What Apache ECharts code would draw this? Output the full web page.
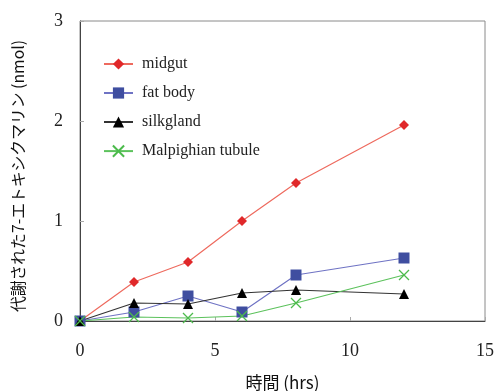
<!DOCTYPE html>
<html><head><meta charset="utf-8">
<script src="https://cdn.jsdelivr.net/npm/echarts@6/dist/echarts.min.js"></script>
<style>html,body{margin:0;padding:0;background:#fff}#c{width:494px;height:391px}</style>
</head><body><div id="c"></div>
<script>
const hours = [0, 2, 4, 6, 8, 12];
const midgut = [0, 0.39, 0.59, 1.0, 1.38, 1.96];
const fatBody = [0, 0.09, 0.25, 0.09, 0.46, 0.63];
const silkgland = [0, 0.18, 0.17, 0.28, 0.31, 0.27];
const malpighian = [0, 0.04, 0.03, 0.05, 0.18, 0.46];
const seriesNames = ['midgut', 'fat body', 'silkgland', 'Malpighian tubule'];
const xTicks = [0, 5, 10, 15];
const yTicks = [0, 1, 2, 3];
const yTitle = '代謝された7-エトキシクマリン (nmol)';
const xTitle = '時間 (hrs)';

const pairs = arr => hours.map((h, i) => [h, arr[i]]);
const serif = '"Liberation Serif","DejaVu Serif",serif';
const cjk = '"Noto Sans CJK JP",sans-serif';
const chart = echarts.init(document.getElementById('c'));
chart.setOption({
  animation: false,
  grid: {left: 80, right: 9, top: 21, bottom: 70, outerBoundsMode: 'none', containLabel: false,
         show: true, borderColor: '#8a8a8a', borderWidth: 1},
  graphic: [{
    type: 'text', x: 18, y: 176, rotation: Math.PI / 2,
    style: {text: yTitle, fontFamily: cjk, fontSize: 15.8, fill: '#111', align: 'center', verticalAlign: 'middle'}
  }],
  legend: {
    orient: 'vertical', left: 103, top: 56, padding: 0, itemGap: 13, itemWidth: 29, itemHeight: 14,
    textStyle: {fontFamily: serif, fontSize: 16, lineHeight: 14, color: '#222', padding: [0, 0, 0, 4]},
    data: seriesNames
  },
  xAxis: {
    type: 'value', min: xTicks[0], max: xTicks[xTicks.length - 1], interval: 5,
    axisLine: {lineStyle: {color: '#444', width: 1}},
    axisTick: {inside: true, length: 4, lineStyle: {color: '#aaa'}},
    splitLine: {show: false},
    axisLabel: {fontFamily: serif, fontSize: 18, color: '#222', margin: 21},
    name: xTitle, nameLocation: 'middle', nameGap: 53,
    nameTextStyle: {fontFamily: cjk, fontSize: 17, color: '#111'}
  },
  yAxis: {
    type: 'value', min: yTicks[0], max: yTicks[yTicks.length - 1], interval: 1,
    axisLine: {lineStyle: {color: '#444', width: 1}},
    axisTick: {inside: true, length: 4, lineStyle: {color: '#aaa'}},
    splitLine: {show: false},
    axisLabel: {fontFamily: serif, fontSize: 18, color: '#222', margin: 17}
  },
  series: [
    {name: seriesNames[0], type: 'line', data: pairs(midgut), symbol: 'diamond', symbolSize: 10,
     lineStyle: {color: '#ee6a5e', width: 1.2}, itemStyle: {color: '#e0282a'}},
    {name: seriesNames[1], type: 'line', data: pairs(fatBody), symbol: 'rect', symbolSize: 11,
     lineStyle: {color: '#6f73c4', width: 1.2}, itemStyle: {color: '#3f4ea0'}},
    {name: seriesNames[2], type: 'line', data: pairs(silkgland), symbol: 'triangle', symbolSize: 10,
     lineStyle: {color: '#333', width: 1.2}, itemStyle: {color: '#000'}},
    {name: seriesNames[3], type: 'line', data: pairs(malpighian), symbol: 'path://M0,0L10,10M10,0L0,10', symbolSize: 10,
     lineStyle: {color: '#5cc25c', width: 1.2}, itemStyle: {color: 'none', borderColor: '#4cbb4c', borderWidth: 1.3}}
  ]
});
</script></body></html>
